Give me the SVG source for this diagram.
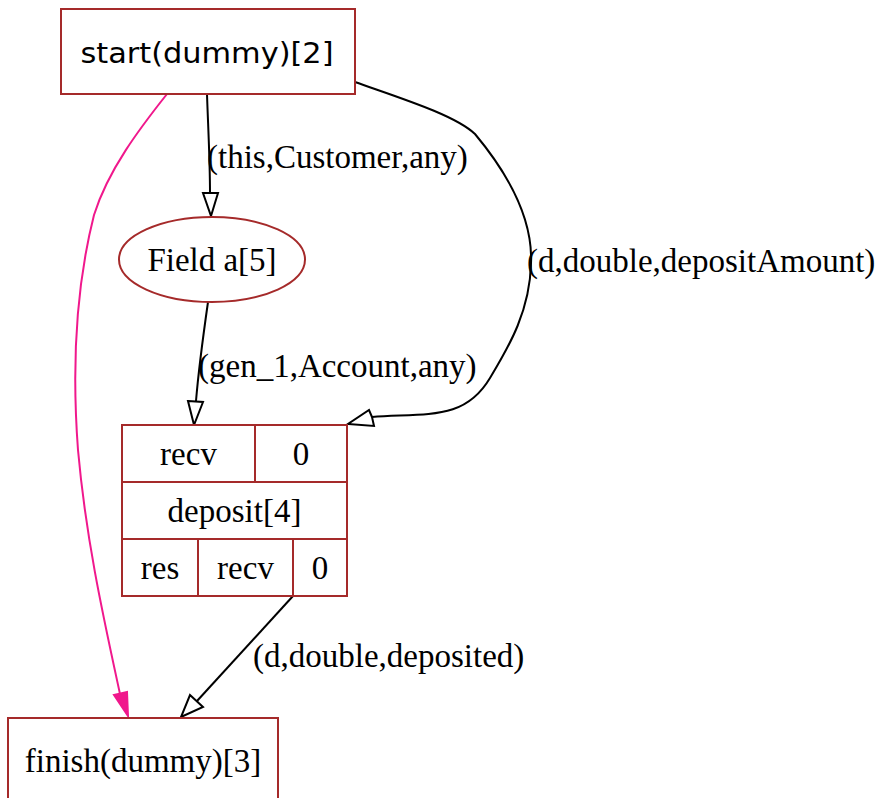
<svg xmlns="http://www.w3.org/2000/svg" width="877" height="798" viewBox="0 0 877 798">
  <style>
    .node { fill: #ffffff; stroke: #a52a2a; stroke-width: 2; }
    .div { stroke: #a52a2a; stroke-width: 2; fill: none; }
    .lbl { font-family: "Liberation Serif", "Times New Roman", serif; font-size: 33px; fill: #000000; }
    .mid { text-anchor: middle; }
    .sans { font-family: "DejaVu Sans", "Open Sans", sans-serif; font-size: 29px; fill: #000000; text-anchor: middle; }
    .edge { fill: none; stroke: #000000; stroke-width: 2; }
    .open { fill: #ffffff; stroke: #000000; stroke-width: 2; }
    .pink { fill: none; stroke: #f0188c; stroke-width: 2; }
    .pinkhead { fill: #f0188c; stroke: #f0188c; stroke-width: 2; }
  </style>
  <rect width="877" height="798" fill="#ffffff"/>

  <!-- connectors -->
  <g id="edges">
    <!-- start -> finish (control flow) -->
    <g id="edge-start-finish">
      <path class="pink" d="M167,94 C140,128 108,170 94,215 C75,290 72,370 78,450 C86,540 104,620 120,694"/>
      <polygon class="pinkhead" points="114,695 127,692 128,716"/>
    </g>
    <!-- start -> Field a -->
    <g id="edge-start-field">
      <path class="edge" d="M207,94 C208,125 210,160 210,194"/>
      <polygon class="open" points="203,193 218,193 211,216"/>
      <text class="lbl" x="207" y="168">(this,Customer,any)</text>
    </g>
    <!-- start -> deposit (depositAmount) -->
    <g id="edge-start-deposit">
      <path class="edge" d="M355,82 C400,98 455,115 475,134 C505,170 533,215 531,263 C530,310 510,345 490,378 C465,420 430,413 372,417"/>
      <polygon class="open" points="372,417 369,410 348,424 374,426"/>
      <text class="lbl" x="527" y="272">(d,double,depositAmount)</text>
    </g>
    <!-- Field a -> deposit -->
    <g id="edge-field-deposit">
      <path class="edge" d="M208,302 C204,330 199,365 196,401"/>
      <polygon class="open" points="188,401 203,402 194,425"/>
      <text class="lbl" x="198" y="377">(gen_1,Account,any)</text>
    </g>
    <!-- deposit -> finish -->
    <g id="edge-deposit-finish">
      <path class="edge" d="M293,596 L197,701"/>
      <polygon class="open" points="190,695 203,707 181,717"/>
      <text class="lbl" x="253" y="667">(d,double,deposited)</text>
    </g>
  </g>

  <!-- start node -->
  <g id="node-start">
    <rect class="node" x="61" y="9" width="294" height="85"/>
    <text class="sans" x="207" y="63" textLength="253" lengthAdjust="spacingAndGlyphs">start(dummy)[2]</text>
  </g>

  <!-- field node -->
  <g id="node-field">
    <ellipse class="node" cx="212" cy="259.5" rx="93" ry="42.5"/>
    <text class="lbl mid" x="212" y="271">Field a[5]</text>
  </g>

  <!-- deposit record node -->
  <g id="node-deposit">
    <rect class="node" x="122" y="425" width="225" height="171"/>
    <path class="div" d="M122,482 H347 M122,539 H347 M255,425 V482 M198,539 V596 M293,539 V596"/>
    <text class="lbl mid" x="188.5" y="465">recv</text>
    <text class="lbl mid" x="301" y="465">0</text>
    <text class="lbl mid" x="234.5" y="522">deposit[4]</text>
    <text class="lbl mid" x="160" y="579">res</text>
    <text class="lbl mid" x="245.5" y="579">recv</text>
    <text class="lbl mid" x="320" y="579">0</text>
  </g>

  <!-- finish node -->
  <g id="node-finish">
    <rect class="node" x="8" y="718" width="270" height="100"/>
    <text class="lbl mid" x="143" y="772">finish(dummy)[3]</text>
  </g>
</svg>
